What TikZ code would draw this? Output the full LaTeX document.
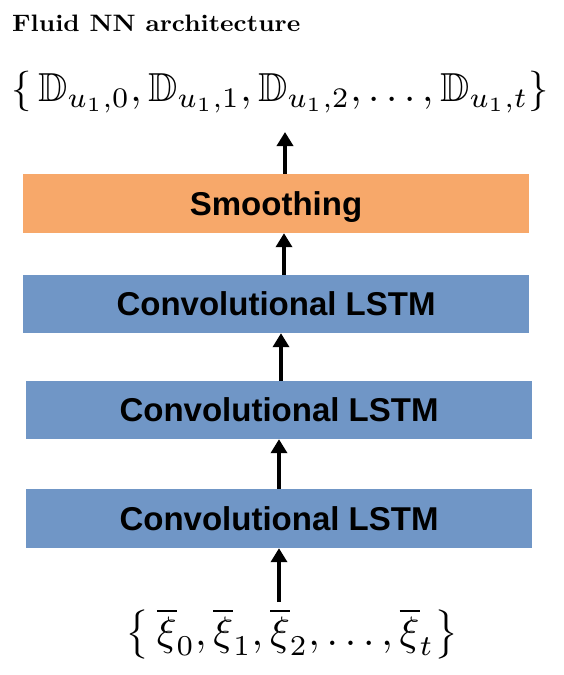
\documentclass[tikz,border=0pt]{standalone}
\usepackage{amssymb}
\usepackage{graphicx}
\usepackage{fontspec}
\setsansfont{Liberation Sans}
\usetikzlibrary{arrows.meta}
\definecolor{smoothorange}{RGB}{247,168,106}
\definecolor{lstmblue}{RGB}{112,150,198}
\begin{document}
\begin{tikzpicture}[x=1pt,y=-1pt,
  box/.style={minimum width=506pt, minimum height=58pt, inner sep=0pt, draw=none,
    font=\fontsize{33}{36}\selectfont\sffamily\bfseries, text height=23.6pt, text depth=0pt},
  arr/.style={line width=4pt, -{Triangle[length=14pt,width=16pt]}},
  mathline/.style={inner sep=0pt}]
\useasboundingbox (0,0) rectangle (563,675);
\node[anchor=base west, inner sep=0pt] (title) at (12,31)
  {\resizebox{288pt}{16.5pt}{\bfseries Fluid NN architecture}};
\node[mathline] (outs) at (280,92)
  {\resizebox{537pt}{!}{$\left\{\,\mathbb{D}_{u_1,0},\mathbb{D}_{u_1,1},\mathbb{D}_{u_1,2},\ldots,\mathbb{D}_{u_1,t}\right\}$}};
\node[box, fill=smoothorange, minimum height=59pt] (smooth) at (276,203.5) {Smoothing};
\node[box, fill=lstmblue] (conv1) at (276,304) {Convolutional LSTM};
\node[box, fill=lstmblue] (conv2) at (279,410) {Convolutional LSTM};
\node[box, fill=lstmblue, minimum height=59pt] (conv3) at (279,518.5) {Convolutional LSTM};
\node[mathline] (ins) at (292,634)
  {\resizebox{332pt}{!}{$\left\{\,\overline{\xi}_0,\overline{\xi}_1,\overline{\xi}_2,\ldots,\overline{\xi}_t\right\}$}};
\coordinate (outtip) at (285,132);
\coordinate (inbase) at (279,602);
\draw[arr] (inbase) -- (conv3.south);
\draw[arr] (conv3.north) -- (conv2.south);
\draw[arr] ([xshift=2pt]conv2.north) -- ([xshift=2pt]conv2.north |- conv1.south);
\draw[arr] ([xshift=8pt]conv1.north) -- ([xshift=8pt]conv1.north |- smooth.south);
\draw[arr] ([xshift=9pt]smooth.north) -- (outtip);
\end{tikzpicture}
\end{document}
